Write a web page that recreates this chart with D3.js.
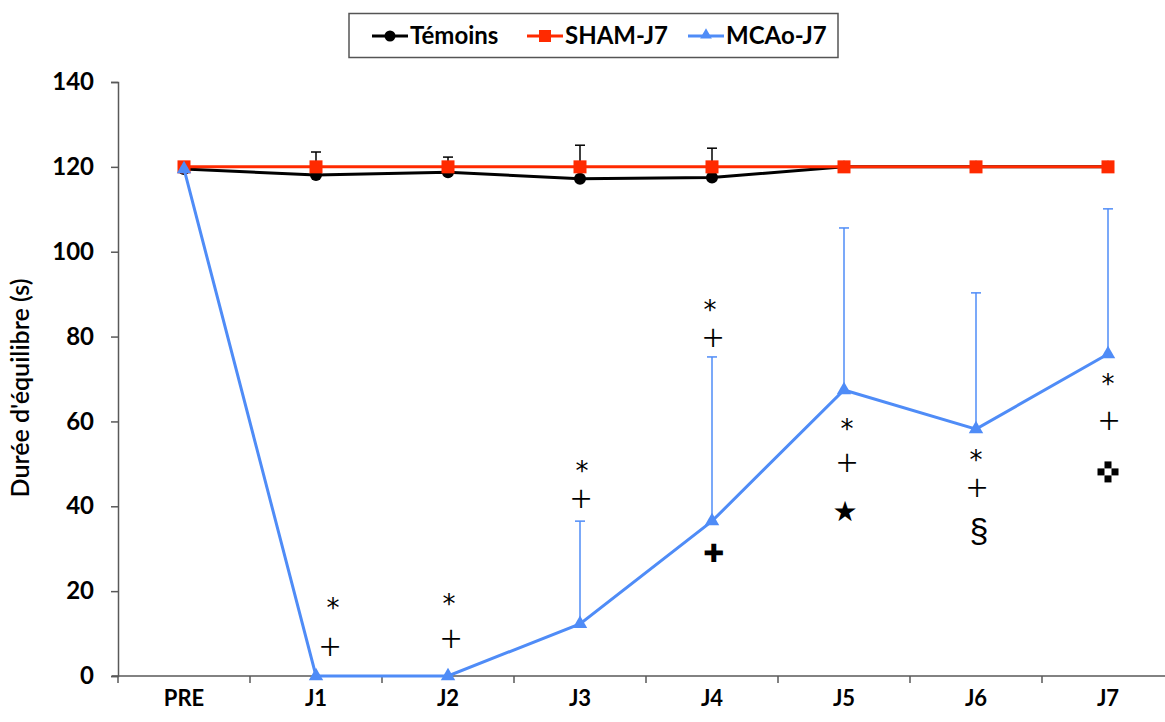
<!DOCTYPE html>
<html><head><meta charset="utf-8">
<script src="https://cdn.jsdelivr.net/npm/d3@7"></script>
<style>body{margin:0;background:#fff;} svg{display:block;}</style>
</head><body>
<svg id="c" width="1165" height="722"></svg>
<script>
const categories = ["PRE","J1","J2","J3","J4","J5","J6","J7"];
const temoins = [119.5,118.1,118.7,117.2,117.5,120,120,120];
const temoinsErr = [0,5.4,3.6,7.9,6.9,0,0,0];
const sham = [120,120,120,120,120,120,120,120];
const mcao = [119.5,0,0,12.3,36.5,67.4,58.2,75.9];
const mcaoErr = [0,0,0,24.2,38.7,38.2,32.1,34.2];
const yTicks = [0,20,40,60,80,100,120,140];
const seriesNames = ["Témoins","SHAM-J7","MCAo-J7"];
// significance annotations: category, symbol, value level, small horizontal offset
const annCat = ["J1","J1","J2","J2","J3","J3","J4","J4","J4","J5","J5","J5","J6","J6","J6","J7","J7","J7"];
const annSym = ["*","+","*","+","*","+","*","+","✚","*","+","★","*","+","§","*","+","checker"];
const annVal = [17.0,6.8,17.9,8.7,49.3,41.7,87.2,79.7,29.0,59.2,50.2,39.1,51.9,44.3,34.4,69.8,60.1,48.1];
const annDx  = [17,14,1,3,2,1,-2,1,2,3,3,1,0,1,3,0,1,0];

const svg = d3.select("#c");
const font = "Lato, 'Open Sans', sans-serif";
const x = d3.scaleBand().domain(categories).range([118, 118 + 132*8]).padding(0);
const y = d3.scaleLinear().domain([0,140]).range([676, 82]);
const cx = c => x(c) + x.bandwidth()/2;
const axisCol = "#595959";

// Y axis
const ya = svg.append("g").attr("transform","translate(118,0)")
  .call(d3.axisLeft(y).tickValues(yTicks).tickSize(7).tickPadding(17));
ya.select(".domain").attr("stroke",axisCol).attr("stroke-width",1.5);
ya.selectAll(".tick line").attr("stroke",axisCol).attr("stroke-width",1.5);
ya.selectAll(".tick text").attr("font-family",font).attr("font-weight","bold").attr("font-size",24).attr("fill","#000");

// X axis
const xa = svg.append("g").attr("transform","translate(0,676)")
  .call(d3.axisBottom(x).tickSize(0).tickPadding(12));
xa.select(".domain").remove();
xa.selectAll(".tick text").attr("font-family",font).attr("font-weight","bold").attr("font-size",22).attr("fill","#000").attr("dy","0.82em");
svg.append("line").attr("x1",112).attr("x2",x.range()[1]).attr("y1",676).attr("y2",676)
  .attr("stroke",axisCol).attr("stroke-width",1.5);
svg.append("g").selectAll("line").data(categories.concat(["end"])).join("line")
  .attr("x1",(d,i)=> i<categories.length ? x(d) : x.range()[1])
  .attr("x2",(d,i)=> i<categories.length ? x(d) : x.range()[1])
  .attr("y1",676).attr("y2",683).attr("stroke",axisCol).attr("stroke-width",1.5);

// Y title
svg.append("text").attr("transform","translate(29,388) rotate(-90)")
  .attr("text-anchor","middle").attr("font-family",font).attr("font-weight","600")
  .attr("font-size",25).text("Durée d'équilibre (s)");

const line = d3.line().x((d,i)=>cx(categories[i])).y(d=>y(d));

// Témoins error bars
const teb = svg.append("g");
temoins.forEach((v,i)=>{
  if(temoinsErr[i]<=0) return;
  const c = cx(categories[i]), top = y(v+temoinsErr[i]);
  teb.append("line").attr("x1",c).attr("x2",c).attr("y1",y(v)).attr("y2",top).attr("stroke","#000").attr("stroke-width",1.5);
  teb.append("line").attr("x1",c-5).attr("x2",c+5).attr("y1",top).attr("y2",top).attr("stroke","#000").attr("stroke-width",1.5);
});
svg.append("path").datum(temoins).attr("d",line).attr("fill","none").attr("stroke","#000").attr("stroke-width",3);
svg.append("g").selectAll("circle").data(temoins).join("circle")
  .attr("cx",(d,i)=>cx(categories[i])).attr("cy",d=>y(d)).attr("r",6).attr("fill","#000");

// SHAM
const red = "#ff2a00";
svg.append("path").datum(sham).attr("d",line).attr("fill","none").attr("stroke",red).attr("stroke-width",3);
svg.append("g").selectAll("rect").data(sham).join("rect")
  .attr("x",(d,i)=>cx(categories[i])-6.5).attr("y",d=>y(d)-6.5).attr("width",13).attr("height",13).attr("fill",red);

// MCAo
const blue = "#4f8cf7";
const meb = svg.append("g");
mcao.forEach((v,i)=>{
  if(mcaoErr[i]<=0) return;
  const c = cx(categories[i]), top = y(v+mcaoErr[i]);
  meb.append("line").attr("x1",c).attr("x2",c).attr("y1",y(v)).attr("y2",top).attr("stroke",blue).attr("stroke-width",1.5);
  meb.append("line").attr("x1",c-5).attr("x2",c+5).attr("y1",top).attr("y2",top).attr("stroke",blue).attr("stroke-width",1.5);
});
svg.append("path").datum(mcao).attr("d",line).attr("fill","none").attr("stroke",blue).attr("stroke-width",3);
const tri = d3.symbol().type(d3.symbolTriangle).size(90);
svg.append("g").selectAll("path").data(mcao).join("path")
  .attr("d",tri).attr("transform",(d,i)=>`translate(${cx(categories[i])},${y(d)})`).attr("fill",blue);

// Annotations
const ag = svg.append("g");
annSym.forEach((s,i)=>{
  const px = cx(annCat[i]) + annDx[i], py = y(annVal[i]);
  if(s==="checker"){
    const g = ag.append("g").attr("transform",`translate(${px},${py})`);
    const q = 7;
    [[-q/2,-1.5*q],[-1.5*q,-q/2],[q/2,-q/2],[-q/2,q/2]].forEach(p=>{
      g.append("rect").attr("x",p[0]).attr("y",p[1]).attr("width",q).attr("height",q).attr("fill","#000");
    });
    return;
  }
  let fs = 26, dy = "0.35em", ff = "'DejaVu Sans', sans-serif", fw = "normal";
  if(s==="*"){ fs = 26; dy = "0.5em"; }
  if(s==="+"){ fs = 38; dy = "0.36em"; ff = "'Noto Sans', 'Liberation Sans', sans-serif"; fw = "300"; }
  if(s==="✚"){ fs = 25; dy = "0.36em"; }
  if(s==="★"){ fs = 28; dy = "0.38em"; }
  if(s==="§"){ fs = 34; dy = "0.36em"; ff = "'Liberation Sans', sans-serif"; }
  ag.append("text").attr("x",px).attr("y",py).attr("dy",dy).attr("text-anchor","middle")
    .attr("font-family",ff).attr("font-weight",fw).attr("font-size",fs).attr("fill","#000").text(s);
});

// Legend
const lg = svg.append("g");
lg.append("rect").attr("x",349).attr("y",13.5).attr("width",489).attr("height",44)
  .attr("fill","#fff").attr("stroke","#555").attr("stroke-width",1.5);
const lx = [372, 527, 688];
const lcol = ["#000", red, blue];
seriesNames.forEach((n,i)=>{
  const g = lg.append("g").attr("transform",`translate(${lx[i]},36)`);
  g.append("line").attr("x1",0).attr("x2",36).attr("y1",0).attr("y2",0).attr("stroke",lcol[i]).attr("stroke-width",3);
  if(i===0) g.append("circle").attr("cx",18).attr("cy",0).attr("r",5.5).attr("fill",lcol[i]);
  if(i===1) g.append("rect").attr("x",12).attr("y",-6).attr("width",12).attr("height",12).attr("fill",lcol[i]);
  if(i===2) g.append("path").attr("d",d3.symbol().type(d3.symbolTriangle).size(60)).attr("transform","translate(18,-1)").attr("fill",lcol[i]);
  g.append("text").attr("x",38).attr("y",0).attr("dy","0.35em").attr("font-family",font).attr("font-weight","bold")
    .attr("font-size",24).text(n);
});
</script>
</body></html>
